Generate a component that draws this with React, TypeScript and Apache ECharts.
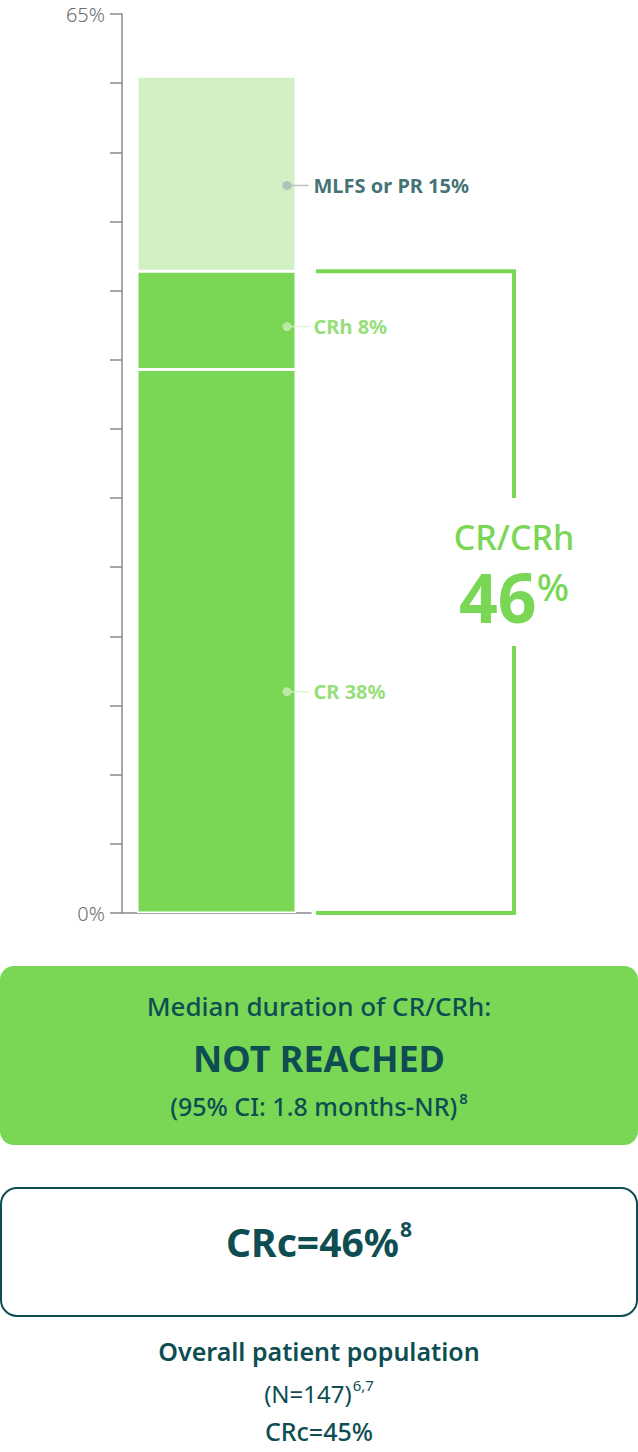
import React, { useEffect, useRef } from 'react';
import * as echarts from 'echarts';

// stacked bar (axis 0–65%)
const categories = ['All'];
const crValues = [39.3];
const crhValues = [7.1];
const mlfsValues = [14.1];
const crCrhTotal = [46.4];
// where the callout dots sit on the value axis
const calloutNames = ['MLFS or PR 15%', 'CRh 8%', 'CR 38%'];
const calloutValues = [52.6, 42.4, 16.0];
const yTickLabels = [0, 65];

const GREEN = '#79D755';
const LIGHT_GREEN = '#D3F0C5';
const TEAL = '#0E4E52';
const FONT = '"Noto Sans", sans-serif';

const calloutDot = ['#A6B7BB', '#C9EEB9', '#C9EEB9'];
const calloutText = [TEAL, GREEN, GREEN];
const calloutLine = ['#A6B7BB', '#D5F2C8', '#D5F2C8'];

const App: React.FC = () => {
  const chartRef = useRef<HTMLDivElement>(null);

  useEffect(() => {
    if (!chartRef.current) return;
    const chart = echarts.init(chartRef.current, undefined, { renderer: 'svg' });

    const option: any = {
      animation: false,
      textStyle: { fontFamily: FONT },
      grid: { left: 122, right: 327, top: 14, bottom: 539 },
      xAxis: {
        type: 'category',
        data: categories,
        axisLine: { lineStyle: { color: '#8a8a8a', width: 1.5 } },
        axisTick: { show: false },
        axisLabel: { show: false }
      },
      yAxis: {
        type: 'value',
        min: 0,
        max: 65,
        interval: 5,
        axisLine: { show: true, lineStyle: { color: '#8a8a8a', width: 1.5 } },
        axisTick: { show: true, length: 12, lineStyle: { color: '#8a8a8a', width: 1.5 } },
        splitLine: { show: false },
        axisLabel: {
          margin: 17,
          color: '#6e6e6e',
          fontSize: 20,
          fontWeight: 300,
          fontFamily: FONT,
          formatter: (v: number) => (yTickLabels.includes(v) ? v + '%' : '')
        }
      },
      series: [
        {
          name: 'CR',
          type: 'bar',
          stack: 'r',
          barWidth: 159,
          data: crValues,
          itemStyle: { color: GREEN, borderColor: '#fff', borderWidth: 1.5 }
        },
        {
          name: 'CRh',
          type: 'bar',
          stack: 'r',
          barWidth: 159,
          data: crhValues,
          itemStyle: { color: GREEN, borderColor: '#fff', borderWidth: 1.5 }
        },
        {
          name: 'MLFS or PR',
          type: 'bar',
          stack: 'r',
          barWidth: 159,
          data: mlfsValues,
          itemStyle: { color: LIGHT_GREEN, borderColor: '#fff', borderWidth: 1.5 }
        },
        // connector lines
        {
          type: 'scatter',
          symbol: 'rect',
          symbolSize: [18, 1.5],
          symbolOffset: [83, 0],
          z: 5,
          data: calloutValues.map((v, i) => ({
            value: [0, v],
            itemStyle: { color: calloutLine[i] }
          }))
        },
        // callout dots + labels
        {
          type: 'scatter',
          symbol: 'circle',
          symbolSize: 9,
          symbolOffset: [70.5, 0],
          z: 6,
          data: calloutValues.map((v, i) => ({
            value: [0, v],
            itemStyle: { color: calloutDot[i] },
            label: {
              show: true,
              position: 'right',
              distance: 22,
              formatter: calloutNames[i],
              color: calloutText[i],
              fontSize: 20,
              fontWeight: 700,
              fontFamily: FONT
            }
          }))
        },
        // CR/CRh bracket
        {
          type: 'custom',
          clip: false,
          z: 4,
          data: crCrhTotal.map((v) => [0, v]),
          renderItem: (params: any, api: any) => {
            const top = api.coord([0, api.value(1)])[1];
            const bottom = api.coord([0, 0])[1];
            const x0 = 316;
            const x1 = 514;
            const style = { stroke: GREEN, lineWidth: 4, fill: 'none' };
            return {
              type: 'group',
              children: [
                { type: 'polyline', shape: { points: [[x0, top], [x1, top], [x1, 498]] }, style },
                { type: 'polyline', shape: { points: [[x1, 646], [x1, bottom], [x0, bottom]] }, style }
              ]
            };
          }
        }
      ],
      graphic: [
        {
          type: 'text',
          x: 514,
          y: 537,
          style: {
            text: 'CR/CRh',
            fill: GREEN,
            font: `500 34px ${FONT}`,
            lineHeight: 30,
            textAlign: 'center',
            textVerticalAlign: 'middle'
          }
        },
        {
          type: 'text',
          x: 514,
          y: 596,
          style: {
            text: '{big|46}{pct|%}',
            textAlign: 'center',
            textVerticalAlign: 'middle',
            rich: {
              big: { fill: GREEN, fontSize: 68, fontWeight: 700, fontFamily: FONT, lineHeight: 50 },
              pct: { fill: GREEN, fontSize: 38, fontWeight: 500, fontFamily: FONT, lineHeight: 28, padding: [0, 0, 20, 0] }
            }
          }
        },
        {
          type: 'rect',
          shape: { x: 0, y: 966, width: 638, height: 179, r: 14 },
          style: { fill: GREEN }
        },
        {
          type: 'text',
          x: 319,
          y: 1006,
          style: {
            text: 'Median duration of CR/CRh:',
            fill: TEAL,
            font: `500 26px ${FONT}`,
            textAlign: 'center',
            textVerticalAlign: 'middle'
          }
        },
        {
          type: 'text',
          x: 319,
          y: 1058,
          style: {
            text: 'NOT REACHED',
            fill: TEAL,
            font: `700 36px ${FONT}`,
            textAlign: 'center',
            textVerticalAlign: 'middle'
          }
        },
        {
          type: 'text',
          x: 319,
          y: 1106,
          style: {
            text: '{a|(95% CI: 1.8 months-NR)}{s|8}',
            textAlign: 'center',
            textVerticalAlign: 'middle',
            rich: {
              a: { fill: TEAL, fontSize: 25, fontWeight: 500, fontFamily: FONT },
              s: { fill: TEAL, fontSize: 15, fontWeight: 600, fontFamily: FONT, padding: [0, 0, 16, 2] }
            }
          }
        },
        {
          type: 'rect',
          shape: { x: 1, y: 1188, width: 636, height: 128, r: 16 },
          style: { fill: '#fff', stroke: TEAL, lineWidth: 2 }
        },
        {
          type: 'text',
          x: 319,
          y: 1241,
          style: {
            text: '{a|CRc=46%}{s|8}',
            textAlign: 'center',
            textVerticalAlign: 'middle',
            rich: {
              a: { fill: TEAL, fontSize: 39, fontWeight: 700, fontFamily: FONT },
              s: { fill: TEAL, fontSize: 21, fontWeight: 700, fontFamily: FONT, padding: [0, 0, 24, 1] }
            }
          }
        },
        {
          type: 'text',
          x: 319,
          y: 1351,
          style: {
            text: 'Overall patient population',
            fill: TEAL,
            font: `600 25px ${FONT}`,
            textAlign: 'center',
            textVerticalAlign: 'middle'
          }
        },
        {
          type: 'text',
          x: 319,
          y: 1393,
          style: {
            text: '{a|(N=147)}{s|6,7}',
            textAlign: 'center',
            textVerticalAlign: 'middle',
            rich: {
              a: { fill: TEAL, fontSize: 24, fontWeight: 400, fontFamily: FONT },
              s: { fill: TEAL, fontSize: 15, fontWeight: 400, fontFamily: FONT, padding: [0, 0, 16, 1] }
            }
          }
        },
        {
          type: 'text',
          x: 319,
          y: 1431,
          style: {
            text: 'CRc=45%',
            fill: TEAL,
            font: `500 25px ${FONT}`,
            textAlign: 'center',
            textVerticalAlign: 'middle'
          }
        }
      ]
    };

    chart.setOption(option);

    return () => {
      chart.dispose();
    };
  }, []);

  return (
    <div
      ref={chartRef}
      style={{ position: 'absolute', left: 0, top: 0, width: '638px', height: '1452px' }}
    />
  );
};

export default App;
